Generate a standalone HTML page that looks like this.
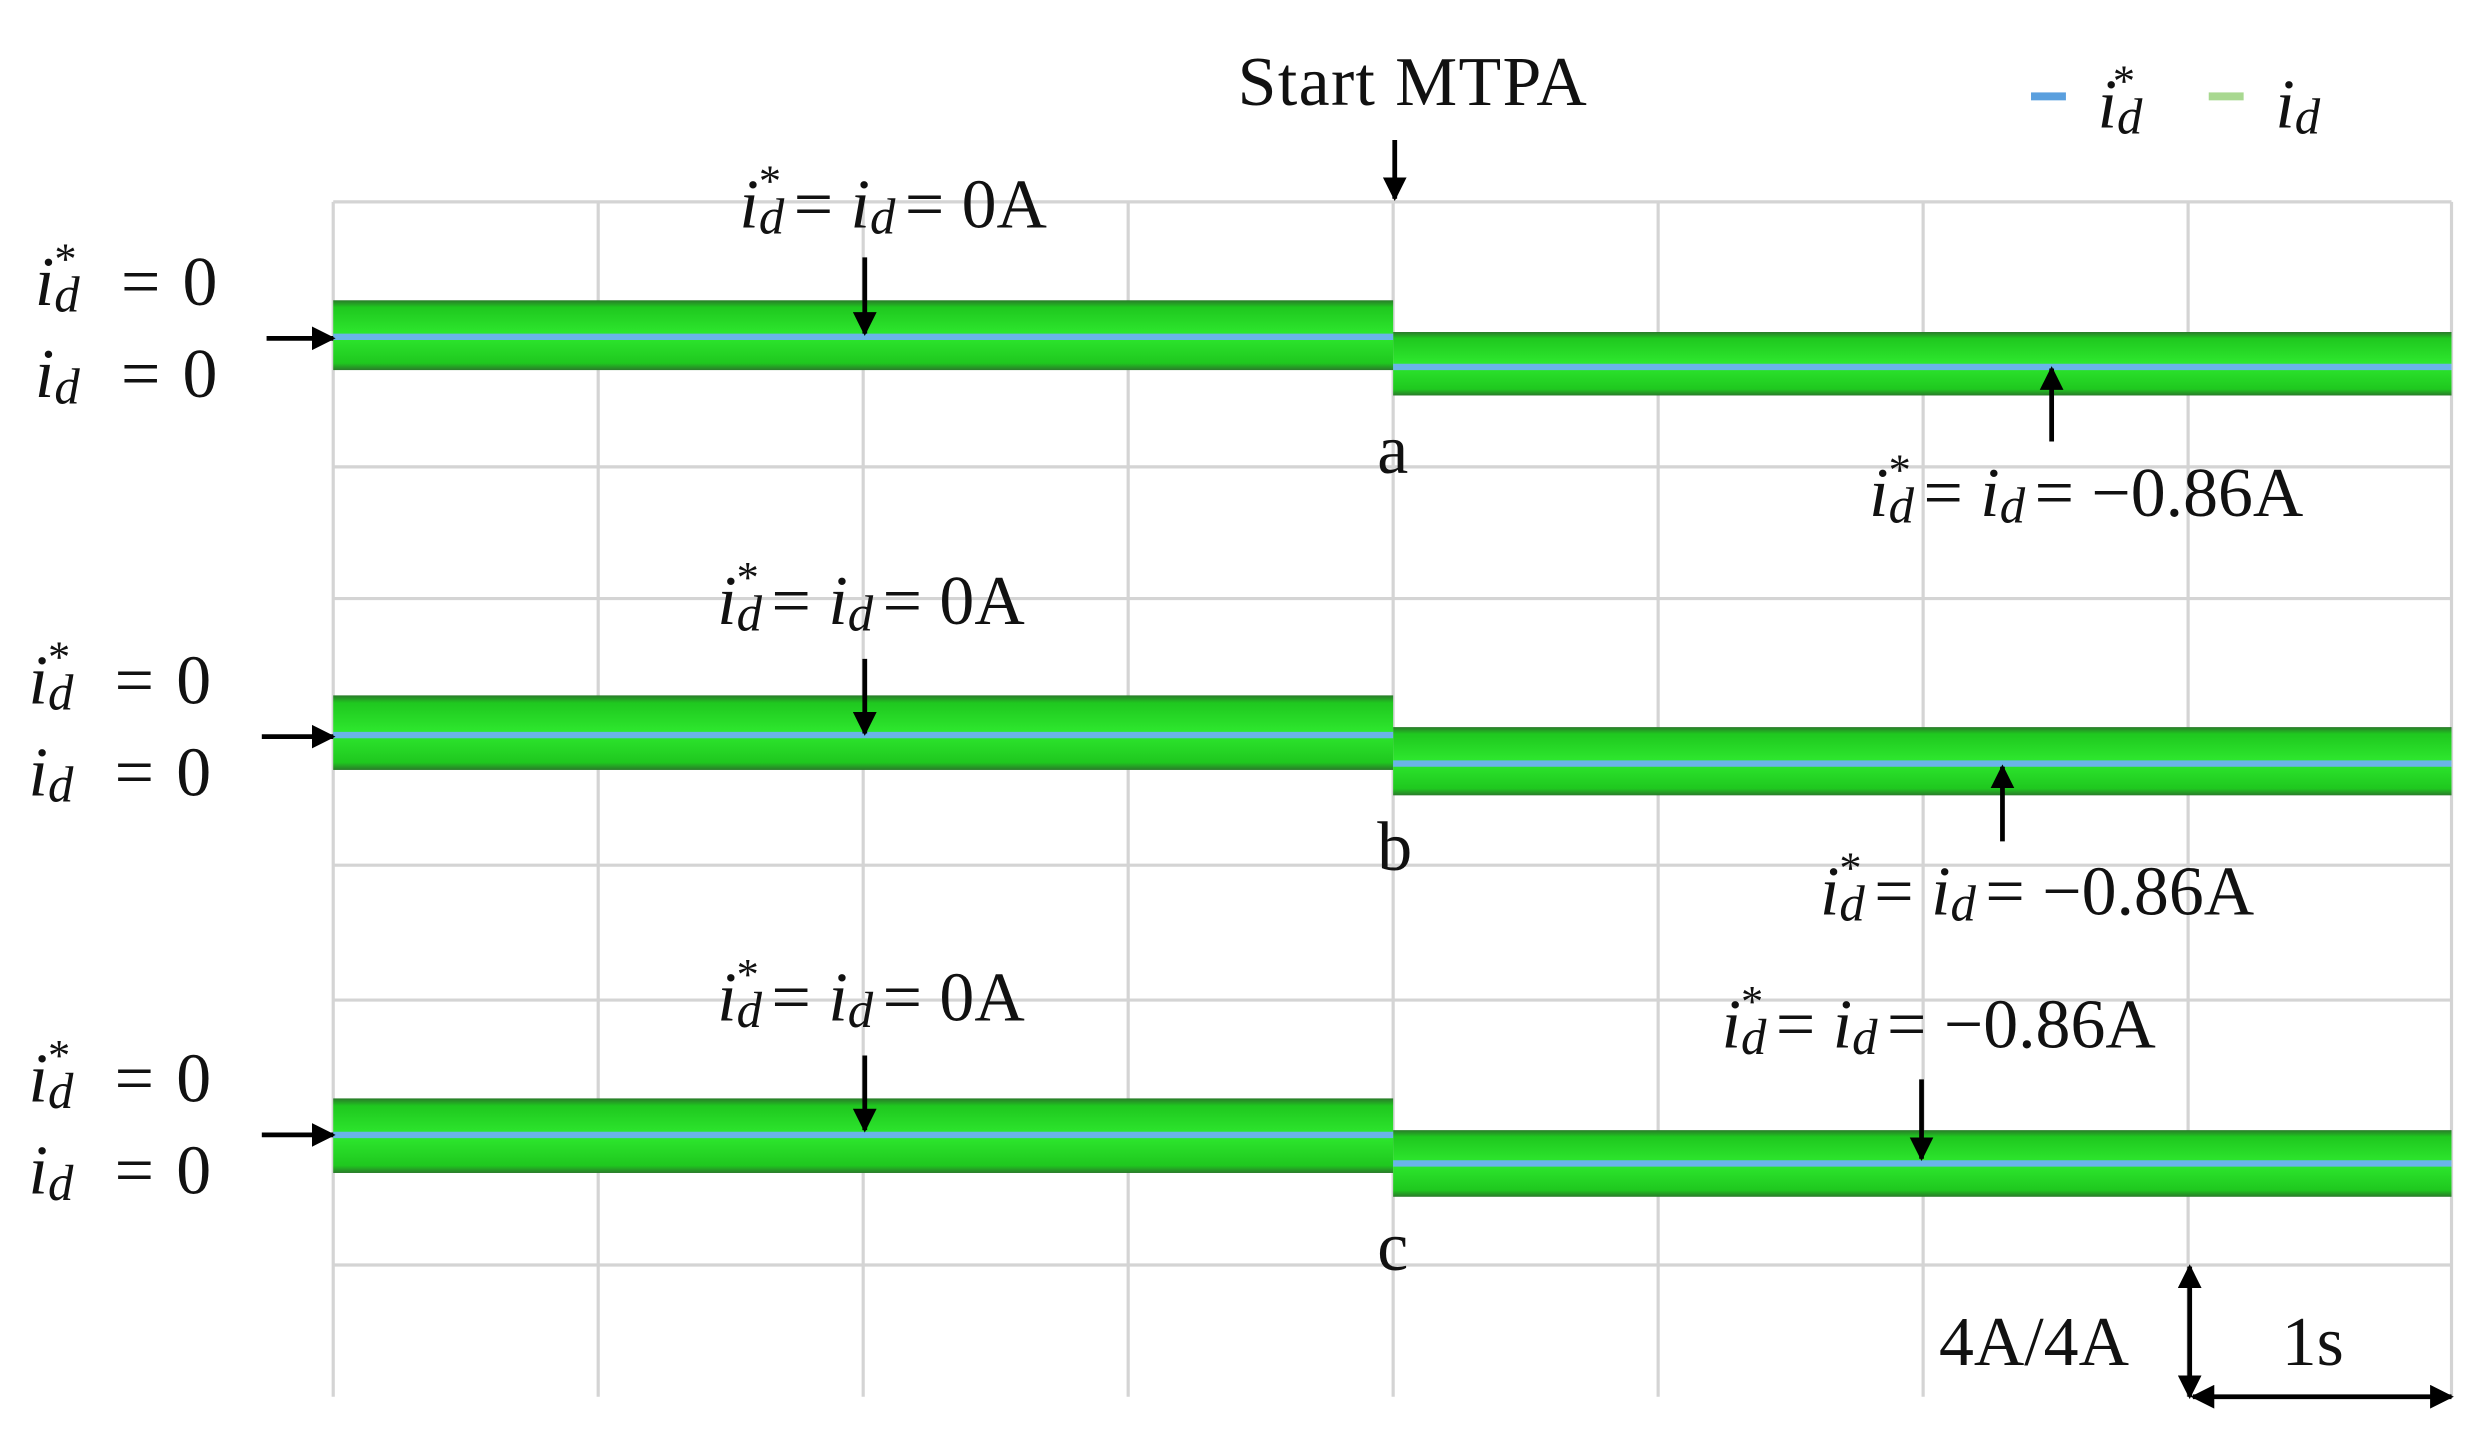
<!DOCTYPE html>
<html><head><meta charset="utf-8"><style>
html,body{margin:0;padding:0;background:#fff;}
svg{display:block}
text{font-family:"Liberation Serif",serif;fill:#111}
.m{font-style:italic}
</style></head><body>
<svg width="2488" height="1432" viewBox="0 0 1568 902" xmlns="http://www.w3.org/2000/svg">
<defs>
<marker id="ah" viewBox="0 0 10 10" refX="9" refY="5" markerWidth="5" markerHeight="5" orient="auto-start-reverse"><path d="M0,0L10,5L0,10z" fill="#000"/></marker>
<linearGradient id="gb" x1="0" y1="0" x2="0" y2="1">
<stop offset="0" stop-color="#2a7a2a"/><stop offset="0.1" stop-color="#1fc81f"/><stop offset="0.5" stop-color="#2ee82e"/><stop offset="0.9" stop-color="#1fc81f"/><stop offset="1" stop-color="#2a7a2a"/></linearGradient>
</defs>
<rect width="1568" height="902" fill="#fff"/>
<g stroke="#d4d4d4" stroke-width="2">
<line x1="210" y1="127" x2="1545" y2="127"/><line x1="210" y1="294" x2="1545" y2="294"/>
<line x1="210" y1="377" x2="1545" y2="377"/><line x1="210" y1="545" x2="1545" y2="545"/>
<line x1="210" y1="630" x2="1545" y2="630"/><line x1="210" y1="797" x2="1545" y2="797"/>
<line x1="210" y1="127" x2="210" y2="880"/><line x1="377" y1="127" x2="377" y2="880"/>
<line x1="544" y1="127" x2="544" y2="880"/><line x1="711" y1="127" x2="711" y2="880"/>
<line x1="878" y1="127" x2="878" y2="880"/><line x1="1045" y1="127" x2="1045" y2="880"/>
<line x1="1212" y1="127" x2="1212" y2="880"/><line x1="1379" y1="127" x2="1379" y2="880"/>
<line x1="1545" y1="127" x2="1545" y2="880"/>
</g>
<g fill="url(#gb)">
<rect x="210" y="189" width="668" height="44"/><rect x="878" y="209" width="667" height="40"/>
<rect x="210" y="438" width="668" height="47"/><rect x="878" y="458" width="667" height="43"/>
<rect x="210" y="692" width="668" height="47"/><rect x="878" y="712" width="667" height="42"/>
</g>
<g stroke="#6ab4e8" stroke-width="4">
<line x1="210" y1="212" x2="878" y2="212"/><line x1="878" y1="231" x2="1545" y2="231"/>
<line x1="210" y1="463" x2="878" y2="463"/><line x1="878" y1="481" x2="1545" y2="481"/>
<line x1="210" y1="715" x2="878" y2="715"/><line x1="878" y1="733" x2="1545" y2="733"/>
</g>
<g stroke="#000" stroke-width="3" marker-end="url(#ah)">
<line x1="168" y1="213" x2="210" y2="213"/><line x1="165" y1="464" x2="210" y2="464"/><line x1="165" y1="715" x2="210" y2="715"/>
<line x1="545" y1="162" x2="545" y2="210"/><line x1="545" y1="415" x2="545" y2="462"/><line x1="545" y1="665" x2="545" y2="712"/>
<line x1="879" y1="88" x2="879" y2="125"/>
<line x1="1293" y1="278" x2="1293" y2="232"/><line x1="1262" y1="530" x2="1262" y2="483"/>
<line x1="1211" y1="680" x2="1211" y2="730"/>
</g>
<g stroke="#000" stroke-width="3" marker-start="url(#ah)" marker-end="url(#ah)">
<line x1="1380" y1="798" x2="1380" y2="880"/><line x1="1382" y1="880" x2="1545" y2="880"/>
</g>
<rect x="1280" y="58" width="22" height="5" fill="#5a9fde"/>
<rect x="1392" y="58" width="22" height="5" fill="#a8d890"/>
<g font-size="44">
<text x="780" y="66" textLength="220">Start MTPA</text>
<text x="1322" y="80" class="m">i<tspan font-size="28" dy="-20" dx="-4">*</tspan><tspan font-size="32" dy="24" dx="-10">d</tspan></text>
<text x="1434" y="80" class="m">i<tspan font-size="32" dy="4">d</tspan></text>
<text x="22" y="192"><tspan class="m">i</tspan><tspan font-size="28" dy="-20" dx="0">*</tspan><tspan class="m" font-size="32" dy="24" dx="-14">d</tspan><tspan dy="-4" dx="26">=</tspan><tspan dx="14">0</tspan></text>
<text x="22" y="250"><tspan class="m">i</tspan><tspan class="m" font-size="32" dy="4">d</tspan><tspan dy="-4" dx="26">=</tspan><tspan dx="14">0</tspan></text>
<text x="18" y="443"><tspan class="m">i</tspan><tspan font-size="28" dy="-20" dx="0">*</tspan><tspan class="m" font-size="32" dy="24" dx="-14">d</tspan><tspan dy="-4" dx="26">=</tspan><tspan dx="14">0</tspan></text>
<text x="18" y="501"><tspan class="m">i</tspan><tspan class="m" font-size="32" dy="4">d</tspan><tspan dy="-4" dx="26">=</tspan><tspan dx="14">0</tspan></text>
<text x="18" y="694"><tspan class="m">i</tspan><tspan font-size="28" dy="-20" dx="0">*</tspan><tspan class="m" font-size="32" dy="24" dx="-14">d</tspan><tspan dy="-4" dx="26">=</tspan><tspan dx="14">0</tspan></text>
<text x="18" y="752"><tspan class="m">i</tspan><tspan class="m" font-size="32" dy="4">d</tspan><tspan dy="-4" dx="26">=</tspan><tspan dx="14">0</tspan></text>
<text x="466" y="143"><tspan class="m">i</tspan><tspan font-size="28" dy="-20" dx="0">*</tspan><tspan class="m" font-size="32" dy="24" dx="-14">d</tspan><tspan dy="-4" dx="6">= </tspan><tspan class="m">i</tspan><tspan class="m" font-size="32" dy="4">d</tspan><tspan dy="-4" dx="6">= 0A</tspan></text>
<text x="452" y="393"><tspan class="m">i</tspan><tspan font-size="28" dy="-20" dx="0">*</tspan><tspan class="m" font-size="32" dy="24" dx="-14">d</tspan><tspan dy="-4" dx="6">= </tspan><tspan class="m">i</tspan><tspan class="m" font-size="32" dy="4">d</tspan><tspan dy="-4" dx="6">= 0A</tspan></text>
<text x="452" y="643"><tspan class="m">i</tspan><tspan font-size="28" dy="-20" dx="0">*</tspan><tspan class="m" font-size="32" dy="24" dx="-14">d</tspan><tspan dy="-4" dx="6">= </tspan><tspan class="m">i</tspan><tspan class="m" font-size="32" dy="4">d</tspan><tspan dy="-4" dx="6">= 0A</tspan></text>
<text x="1178" y="325"><tspan class="m">i</tspan><tspan font-size="28" dy="-20" dx="0">*</tspan><tspan class="m" font-size="32" dy="24" dx="-14">d</tspan><tspan dy="-4" dx="6">= </tspan><tspan class="m">i</tspan><tspan class="m" font-size="32" dy="4">d</tspan><tspan dy="-4" dx="6">= −0.86A</tspan></text>
<text x="1147" y="576"><tspan class="m">i</tspan><tspan font-size="28" dy="-20" dx="0">*</tspan><tspan class="m" font-size="32" dy="24" dx="-14">d</tspan><tspan dy="-4" dx="6">= </tspan><tspan class="m">i</tspan><tspan class="m" font-size="32" dy="4">d</tspan><tspan dy="-4" dx="6">= −0.86A</tspan></text>
<text x="1085" y="660"><tspan class="m">i</tspan><tspan font-size="28" dy="-20" dx="0">*</tspan><tspan class="m" font-size="32" dy="24" dx="-14">d</tspan><tspan dy="-4" dx="6">= </tspan><tspan class="m">i</tspan><tspan class="m" font-size="32" dy="4">d</tspan><tspan dy="-4" dx="6">= −0.86A</tspan></text>
<text x="868" y="298">a</text><text x="868" y="548">b</text><text x="868" y="800">c</text>
<text x="1222" y="860">4A/4A</text><text x="1438" y="860">1s</text>
</g>
</svg>
</body></html>
